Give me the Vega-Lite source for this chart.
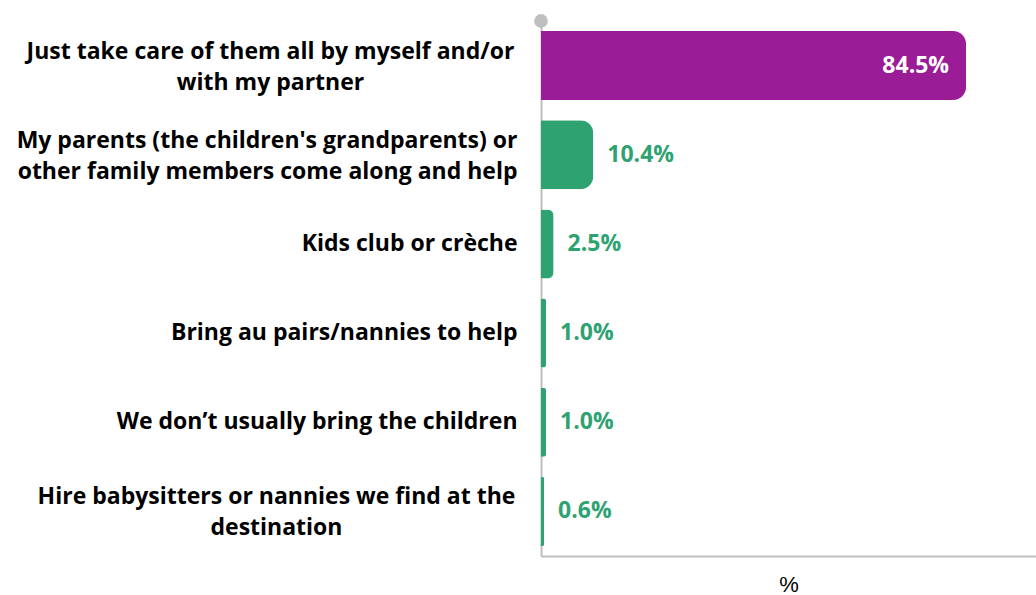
{
  "$schema": "https://vega.github.io/schema/vega-lite/v6.json",
  "width": 495,
  "height": 535,
  "autosize": "none",
  "padding": {"left": 541, "top": 21, "right": 0, "bottom": 39},
  "background": "white",
  "config": {"view": {"stroke": null}, "font": "Open Sans"},
  "data": {"values": [
    {"label": "Just take care of them all by myself and/or|with my partner", "value": 84.5},
    {"label": "My parents (the children's grandparents) or|other family members come along and help", "value": 10.4},
    {"label": "Kids club or crèche", "value": 2.5},
    {"label": "Bring au pairs/nannies to help", "value": 1.0},
    {"label": "We don’t usually bring the children", "value": 1.0},
    {"label": "Hire babysitters or nannies we find at the|destination", "value": 0.6}
  ]},
  "encoding": {
    "y": {
      "field": "label", "type": "nominal", "sort": null,
      "scale": {"paddingInner": 0.226, "paddingOuter": 0.113},
      "axis": {
        "title": null, "ticks": false, "domain": true, "domainColor": "#BFBFBF", "domainWidth": 2,
        "labelFontSize": 23, "labelFontWeight": "bold", "labelColor": "#000000",
        "labelLimit": 0, "labelLineHeight": 31,
        "labelAlign": {"condition": [
          {"test": "indexof(datum.value, 'partner') >= 0", "value": "center"},
          {"test": "indexof(datum.value, 'destination') >= 0", "value": "center"}
        ], "value": "right"},
        "labelPadding": {"condition": [
          {"test": "indexof(datum.value, 'partner') >= 0", "value": 271},
          {"test": "indexof(datum.value, 'destination') >= 0", "value": 265}
        ], "value": 24},
        "labelOffset": {"condition": {"test": "indexof(datum.value, '|') >= 0", "value": -14}, "value": 0},
        "labelExpr": "split(datum.label, '|')"
      }
    },
    "x": {
      "field": "value", "type": "quantitative",
      "scale": {"domain": [0, 98.4], "nice": false, "zero": true},
      "axis": {
        "labels": false, "ticks": false, "grid": false, "domainColor": "#BFBFBF", "domainWidth": 2,
        "title": "%", "titleFont": "Liberation Sans", "titleFontSize": 22, "titleFontWeight": "normal", "titleColor": "#000000", "titlePadding": 18
      }
    }
  },
  "layer": [
    {
      "mark": {"type": "bar", "cornerRadiusEnd": 13},
      "encoding": {
        "color": {"condition": {"test": "datum.value > 50", "value": "#9A1C96"}, "value": "#2FA272"}
      }
    },
    {
      "transform": [{"filter": "datum.value > 50"}, {"calculate": "format(datum.value, '.1f') + '%'", "as": "txt"}],
      "mark": {"type": "text", "align": "right", "dx": -17, "fontSize": 23, "fontWeight": "bold", "color": "#FFFFFF"},
      "encoding": {"text": {"field": "txt"}}
    },
    {
      "transform": [{"filter": "datum.value <= 50"}, {"calculate": "format(datum.value, '.1f') + '%'", "as": "txt"}],
      "mark": {"type": "text", "align": "left", "dx": 14, "fontSize": 23, "fontWeight": "bold", "color": "#2FA272"},
      "encoding": {"text": {"field": "txt"}}
    },
    {
      "data": {"values": [{"v": 0}]},
      "mark": {"type": "point", "filled": true, "opacity": 1, "size": 190, "color": "#BFBFBF"},
      "encoding": {"x": {"field": "v", "type": "quantitative"}, "y": {"value": 0}}
    }
  ]
}
